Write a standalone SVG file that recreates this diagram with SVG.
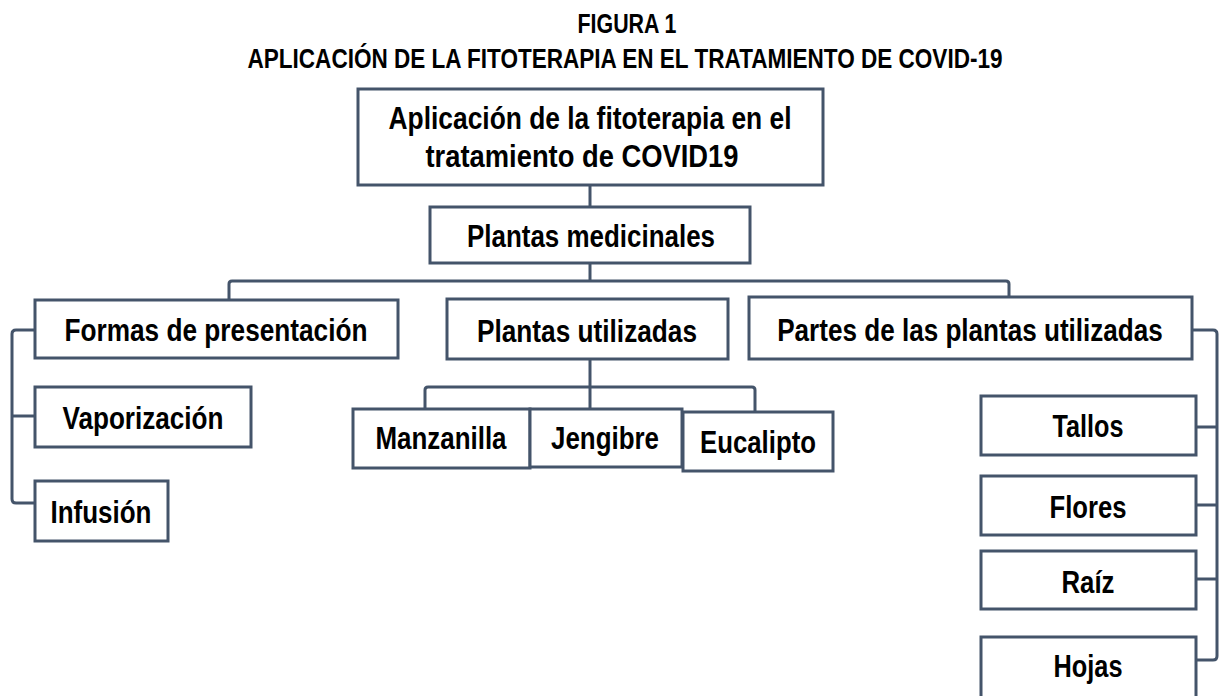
<svg xmlns="http://www.w3.org/2000/svg" width="1219" height="696" viewBox="0 0 1219 696">
<style>
.box{fill:#ffffff;stroke:#44546a;stroke-width:3}
.conn{fill:none;stroke:#44546a;stroke-width:3}
text{font-family:"Liberation Sans",Arial,sans-serif;font-weight:bold;fill:#000;text-anchor:middle}
.t{font-size:31px}
.h{font-size:27px}
</style>
<rect width="1219" height="696" fill="#ffffff"/>
<g id="title">
<text class="h" x="627" y="33" textLength="99" lengthAdjust="spacingAndGlyphs">FIGURA 1</text>
<text class="h" x="625" y="68" textLength="755" lengthAdjust="spacingAndGlyphs">APLICACIÓN DE LA FITOTERAPIA EN EL TRATAMIENTO DE COVID-19</text>
</g>
<g id="connectors">
<path class="conn" d="M590,186 V207"/>
<path class="conn" d="M590,263 V281"/>
<path class="conn" d="M229,299 V284 Q229,281 232,281 H1006 Q1009,281 1009,284 V297"/>
<path class="conn" d="M590,359 V409"/>
<path class="conn" d="M425,409 V390 Q425,387 428,387 H752 Q755,387 755,390 V412"/>
<path class="conn" d="M35,330 H16 Q12,330 12,334 V499 Q12,503 16,503 H35"/>
<path class="conn" d="M12,416 H35"/>
<path class="conn" d="M1192,330 H1213 Q1217,330 1217,334 V656 Q1217,660 1213,660 H1196"/>
<path class="conn" d="M1196,427 H1217 M1196,505 H1217 M1196,579 H1217"/>
</g>
<g id="node-root">
<rect class="box" x="358" y="89" width="465" height="96"/>
<text class="t" x="590" y="129" textLength="403" lengthAdjust="spacingAndGlyphs">Aplicación de la fitoterapia en el</text>
<text class="t" x="582" y="167" textLength="313" lengthAdjust="spacingAndGlyphs">tratamiento de COVID19</text>
</g>
<g id="node-plantas-medicinales">
<rect class="box" x="430" y="207" width="320" height="56"/>
<text class="t" x="591" y="247" textLength="248" lengthAdjust="spacingAndGlyphs">Plantas medicinales</text>
</g>
<g id="node-formas">
<rect class="box" x="35" y="300" width="363" height="58"/>
<text class="t" x="216" y="341" textLength="303" lengthAdjust="spacingAndGlyphs">Formas de presentación</text>
</g>
<g id="node-plantas-utilizadas">
<rect class="box" x="447" y="299" width="281" height="60"/>
<text class="t" x="587" y="342" textLength="220" lengthAdjust="spacingAndGlyphs">Plantas utilizadas</text>
</g>
<g id="node-partes">
<rect class="box" x="749" y="297" width="443" height="62"/>
<text class="t" transform="translate(970,341) scale(0.8,1)" x="0" y="0" textLength="482" lengthAdjust="spacingAndGlyphs">Partes de las plantas utilizadas</text>
</g>
<g id="node-vaporizacion">
<rect class="box" x="35" y="387" width="216" height="60"/>
<text class="t" x="143" y="429" textLength="161" lengthAdjust="spacingAndGlyphs">Vaporización</text>
</g>
<g id="node-infusion">
<rect class="box" x="35" y="481" width="133" height="60"/>
<text class="t" x="101" y="523" textLength="101" lengthAdjust="spacingAndGlyphs">Infusión</text>
</g>
<g id="node-manzanilla">
<rect class="box" x="353" y="409" width="177" height="59"/>
<text class="t" x="441" y="449" textLength="131" lengthAdjust="spacingAndGlyphs">Manzanilla</text>
</g>
<g id="node-jengibre">
<rect class="box" x="530" y="409" width="152" height="58"/>
<text class="t" x="605" y="449" textLength="108" lengthAdjust="spacingAndGlyphs">Jengibre</text>
</g>
<g id="node-eucalipto">
<rect class="box" x="683" y="412" width="150" height="59"/>
<text class="t" x="758" y="453" textLength="116" lengthAdjust="spacingAndGlyphs">Eucalipto</text>
</g>
<g id="node-tallos">
<rect class="box" x="981" y="396" width="215" height="59"/>
<text class="t" x="1088" y="437" textLength="71" lengthAdjust="spacingAndGlyphs">Tallos</text>
</g>
<g id="node-flores">
<rect class="box" x="981" y="476" width="215" height="59"/>
<text class="t" x="1088" y="518" textLength="77" lengthAdjust="spacingAndGlyphs">Flores</text>
</g>
<g id="node-raiz">
<rect class="box" x="981" y="551" width="215" height="58"/>
<text class="t" x="1088" y="593" textLength="53" lengthAdjust="spacingAndGlyphs">Raíz</text>
</g>
<g id="node-hojas">
<rect class="box" x="981" y="637" width="215" height="62"/>
<text class="t" x="1088" y="677" textLength="69" lengthAdjust="spacingAndGlyphs">Hojas</text>
</g>
</svg>
